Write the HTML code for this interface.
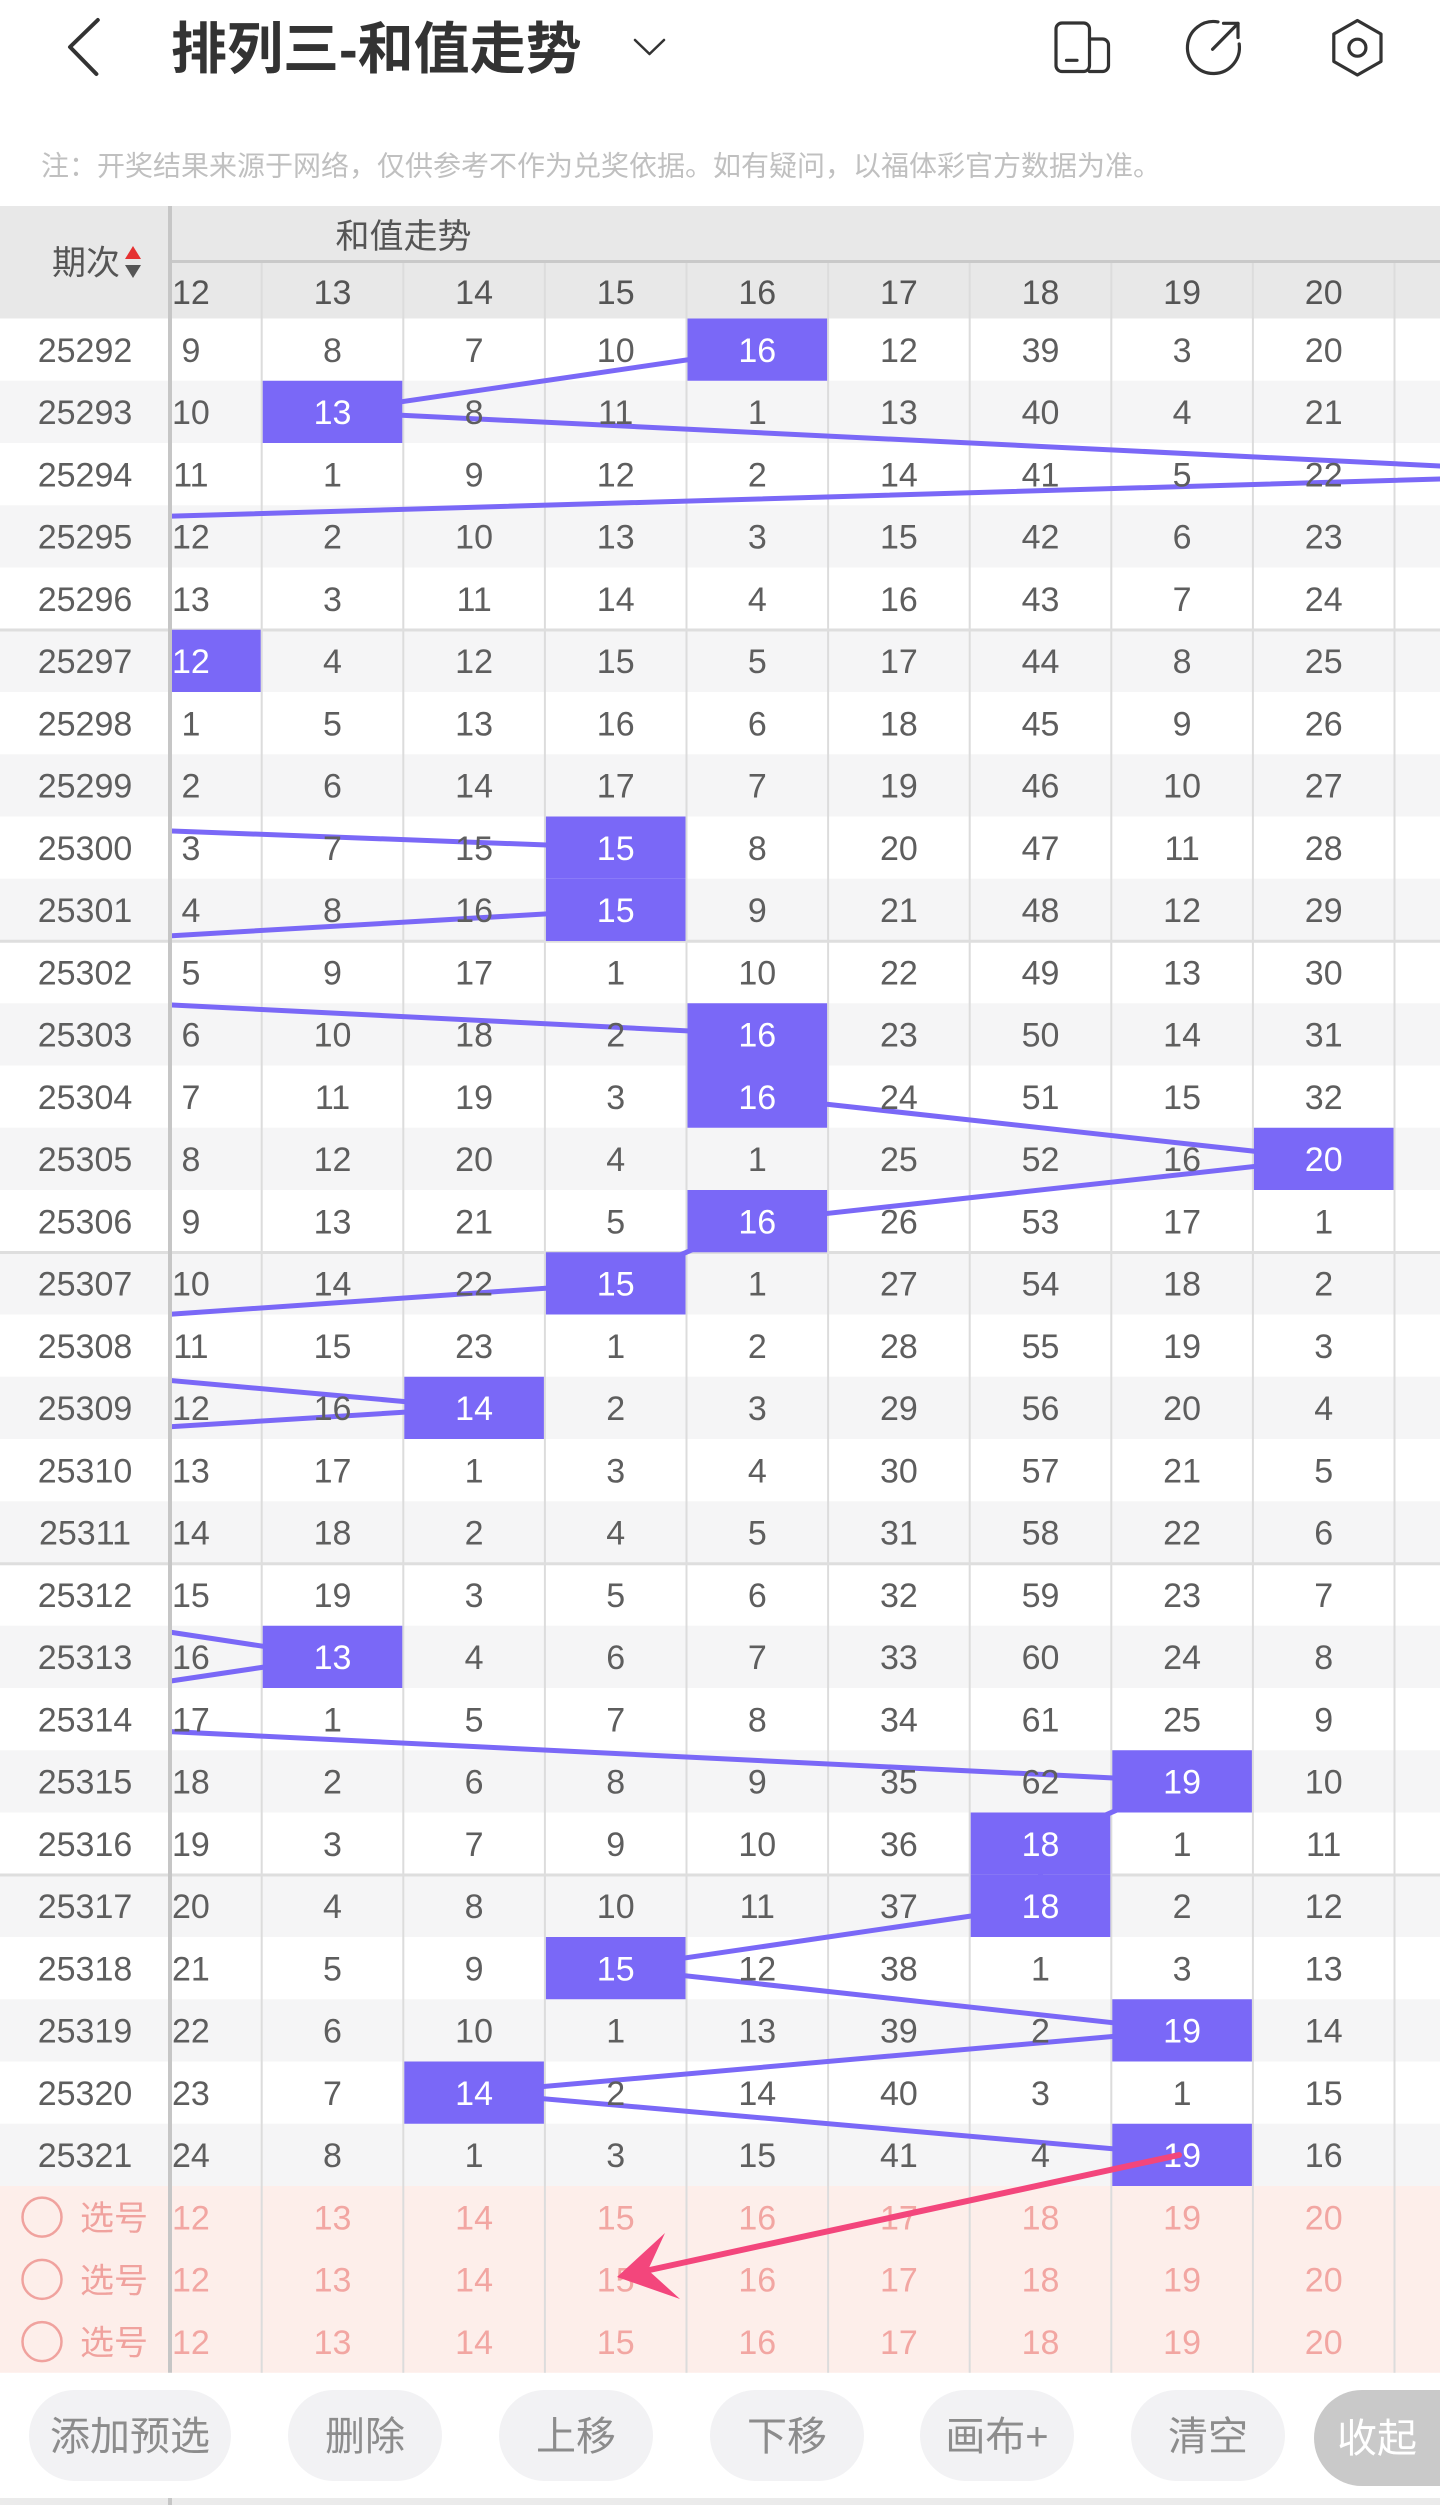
<!DOCTYPE html>
<html><head><meta charset="utf-8"><style>
html,body{margin:0;padding:0;background:#fff;}
body{width:1440px;height:2505px;overflow:hidden;}
svg{display:block;}
</style></head><body>
<svg width="1440" height="2505" viewBox="0 0 1440 2505" xmlns="http://www.w3.org/2000/svg">
<defs><clipPath id="g"><rect x="172" y="318.5" width="1268" height="1867.5"/></clipPath></defs>
<rect width="1440" height="2505" fill="#fff"/>

<!-- title bar -->
<polyline points="97.8,20 70,47 96.4,74" fill="none" stroke="#333" stroke-width="4" stroke-linecap="round" stroke-linejoin="round"/>
<text x="171" y="68.5" font-family="'Liberation Sans','Noto Sans CJK SC',sans-serif" font-size="56" font-weight="bold" fill="#333">排列三-和值走势</text>
<polyline points="635,40 649.5,54 664,40" fill="none" stroke="#333" stroke-width="2.5" stroke-linecap="round" stroke-linejoin="round"/>
<g fill="none" stroke="#333" stroke-width="3.2" stroke-linecap="round" stroke-linejoin="round">
<rect x="1056" y="23" width="33.5" height="48.5" rx="6"/>
<path d="M1089.5,39 H1102.5 a6,6 0 0 1 6,6 V65.5 a6,6 0 0 1 -6,6 H1089.5"/>
<line x1="1066.5" y1="60.3" x2="1077" y2="60.3"/>
<path d="M1218,21.9 A26,26 0 1 0 1239.2,44"/>
<line x1="1212.6" y1="49.3" x2="1238" y2="23.5"/>
<polyline points="1223.5,23.3 1238,23.3 1238,37.5"/>
<path d="M1357.4,20.5 L1381,34 L1381,61.5 L1357.4,75 L1333.8,61.5 L1333.8,34 Z"/>
<circle cx="1357.4" cy="47.7" r="8.5"/>
</g>

<!-- notice -->
<text x="41" y="175.5" font-family="'Liberation Sans','Noto Sans CJK SC',sans-serif" font-size="28" fill="#c0c0c0">注：开奖结果来源于网络，仅供参考不作为兑奖依据。如有疑问，以福体彩官方数据为准。</text>

<!-- header -->
<rect x="0" y="206" width="1440" height="112.5" fill="#e8e8e8"/>
<rect x="172" y="260" width="1268" height="3" fill="#c9c9c9"/>

<!-- row backgrounds -->
<g fill="#f5f5f6">
<rect x="0" y="380.75" width="1440" height="62.25"/>
<rect x="0" y="505.25" width="1440" height="62.25"/>
<rect x="0" y="629.75" width="1440" height="62.25"/>
<rect x="0" y="754.25" width="1440" height="62.25"/>
<rect x="0" y="878.75" width="1440" height="62.25"/>
<rect x="0" y="1003.25" width="1440" height="62.25"/>
<rect x="0" y="1127.75" width="1440" height="62.25"/>
<rect x="0" y="1252.25" width="1440" height="62.25"/>
<rect x="0" y="1376.75" width="1440" height="62.25"/>
<rect x="0" y="1501.25" width="1440" height="62.25"/>
<rect x="0" y="1625.75" width="1440" height="62.25"/>
<rect x="0" y="1750.25" width="1440" height="62.25"/>
<rect x="0" y="1874.75" width="1440" height="62.25"/>
<rect x="0" y="1999.25" width="1440" height="62.25"/>
<rect x="0" y="2123.75" width="1440" height="62.25"/>
</g>
<rect x="0" y="2186" width="1440" height="186.75" fill="#fdeeea"/>

<!-- vertical grid lines -->
<g fill="#dcdcdc">
<rect x="260.7" y="263" width="2" height="2109.75"/>
<rect x="402.3" y="263" width="2" height="2109.75"/>
<rect x="543.9" y="263" width="2" height="2109.75"/>
<rect x="685.5" y="263" width="2" height="2109.75"/>
<rect x="827.1" y="263" width="2" height="2109.75"/>
<rect x="968.7" y="263" width="2" height="2109.75"/>
<rect x="1110.3" y="263" width="2" height="2109.75"/>
<rect x="1251.9" y="263" width="2" height="2109.75"/>
<rect x="1393.5" y="263" width="2" height="2109.75"/>
</g>
<g fill="#dedede">
<rect x="0" y="628.5" width="1440" height="3"/>
<rect x="0" y="939.75" width="1440" height="3"/>
<rect x="0" y="1251" width="1440" height="3"/>
<rect x="0" y="1562.25" width="1440" height="3"/>
<rect x="0" y="1873.5" width="1440" height="3"/>
</g>

<!-- trend lines -->
<g clip-path="url(#g)" stroke="#7a68f7" stroke-width="5" fill="none" stroke-linecap="round">
<line x1="757.3" y1="349.6" x2="332.5" y2="411.85"/>
<line x1="332.5" y1="411.85" x2="1606.9" y2="474.1"/>
<line x1="1606.9" y1="474.1" x2="-517.1" y2="536.35"/>
<line x1="160" y1="830.5" x2="615.7" y2="847.6"/>
<line x1="615.7" y1="909.85" x2="160" y2="936.4"/>
<line x1="160" y1="1004.4" x2="757.3" y2="1034.35"/>
<line x1="757.3" y1="1034.35" x2="757.3" y2="1096.6"/>
<line x1="757.3" y1="1096.6" x2="1323.7" y2="1158.85"/>
<line x1="1323.7" y1="1158.85" x2="757.3" y2="1221.1"/>
<line x1="757.3" y1="1221.1" x2="615.7" y2="1283.35"/>
<line x1="615.7" y1="1283.35" x2="160" y2="1315"/>
<line x1="160" y1="1379.5" x2="474.1" y2="1407.85"/>
<line x1="474.1" y1="1407.85" x2="160" y2="1427.4"/>
<line x1="160" y1="1630.6" x2="332.5" y2="1656.85"/>
<line x1="332.5" y1="1656.85" x2="160" y2="1682.6"/>
<line x1="160" y1="1731.1" x2="1182.1" y2="1781.35"/>
<line x1="1182.1" y1="1781.35" x2="1040.5" y2="1843.6"/>
<line x1="1040.5" y1="1843.6" x2="1040.5" y2="1905.85"/>
<line x1="1040.5" y1="1905.85" x2="615.7" y2="1968.1"/>
<line x1="615.7" y1="1968.1" x2="1182.1" y2="2030.35"/>
<line x1="1182.1" y1="2030.35" x2="474.1" y2="2092.6"/>
<line x1="474.1" y1="2092.6" x2="1182.1" y2="2154.85"/>
</g>

<!-- highlight boxes -->
<g fill="#7a68f7">
<rect x="687.5" y="318.5" width="139.6" height="62.25"/>
<rect x="262.7" y="380.75" width="139.6" height="62.25"/>
<rect x="172" y="629.75" width="88.7" height="62.25"/>
<rect x="545.9" y="816.5" width="139.6" height="62.25"/>
<rect x="545.9" y="878.75" width="139.6" height="62.25"/>
<rect x="687.5" y="1003.25" width="139.6" height="62.25"/>
<rect x="687.5" y="1065.5" width="139.6" height="62.25"/>
<rect x="1253.9" y="1127.75" width="139.6" height="62.25"/>
<rect x="687.5" y="1190" width="139.6" height="62.25"/>
<rect x="545.9" y="1252.25" width="139.6" height="62.25"/>
<rect x="404.3" y="1376.75" width="139.6" height="62.25"/>
<rect x="262.7" y="1625.75" width="139.6" height="62.25"/>
<rect x="1112.3" y="1750.25" width="139.6" height="62.25"/>
<rect x="970.7" y="1812.5" width="139.6" height="62.25"/>
<rect x="970.7" y="1874.75" width="139.6" height="62.25"/>
<rect x="545.9" y="1937" width="139.6" height="62.25"/>
<rect x="1112.3" y="1999.25" width="139.6" height="62.25"/>
<rect x="404.3" y="2061.5" width="139.6" height="62.25"/>
<rect x="1112.3" y="2123.75" width="139.6" height="62.25"/>
</g>

<rect x="168" y="206" width="4" height="2166.75" fill="#c6c6c6"/>

<!-- header texts -->
<g font-family="'Liberation Sans','Noto Sans CJK SC',sans-serif" font-size="34" fill="#555">
<text x="403.5" y="248" text-anchor="middle">和值走势</text>
<text x="52" y="274.5">期次</text>
<text y="303.8" text-anchor="middle"><tspan x="190.9">12</tspan><tspan x="332.5">13</tspan><tspan x="474.1">14</tspan><tspan x="615.7">15</tspan><tspan x="757.3">16</tspan><tspan x="898.9">17</tspan><tspan x="1040.5">18</tspan><tspan x="1182.1">19</tspan><tspan x="1323.7">20</tspan></text>
</g>
<polygon points="133,246 141,259 125,259" fill="#e53232"/>
<polygon points="125,265 141,265 133,278" fill="#555"/>

<!-- data texts -->
<g font-family="'Liberation Sans',sans-serif" font-size="34" fill="#5e5e5e" text-anchor="middle">
<text y="361.8"><tspan x="85">25292</tspan><tspan x="190.9">9</tspan><tspan x="332.5">8</tspan><tspan x="474.1">7</tspan><tspan x="615.7">10</tspan><tspan x="757.3" fill="#fff">16</tspan><tspan x="898.9">12</tspan><tspan x="1040.5">39</tspan><tspan x="1182.1">3</tspan><tspan x="1323.7">20</tspan></text>
<text y="424.05"><tspan x="85">25293</tspan><tspan x="190.9">10</tspan><tspan x="332.5" fill="#fff">13</tspan><tspan x="474.1">8</tspan><tspan x="615.7">11</tspan><tspan x="757.3">1</tspan><tspan x="898.9">13</tspan><tspan x="1040.5">40</tspan><tspan x="1182.1">4</tspan><tspan x="1323.7">21</tspan></text>
<text y="486.3"><tspan x="85">25294</tspan><tspan x="190.9">11</tspan><tspan x="332.5">1</tspan><tspan x="474.1">9</tspan><tspan x="615.7">12</tspan><tspan x="757.3">2</tspan><tspan x="898.9">14</tspan><tspan x="1040.5">41</tspan><tspan x="1182.1">5</tspan><tspan x="1323.7">22</tspan></text>
<text y="548.55"><tspan x="85">25295</tspan><tspan x="190.9">12</tspan><tspan x="332.5">2</tspan><tspan x="474.1">10</tspan><tspan x="615.7">13</tspan><tspan x="757.3">3</tspan><tspan x="898.9">15</tspan><tspan x="1040.5">42</tspan><tspan x="1182.1">6</tspan><tspan x="1323.7">23</tspan></text>
<text y="610.8"><tspan x="85">25296</tspan><tspan x="190.9">13</tspan><tspan x="332.5">3</tspan><tspan x="474.1">11</tspan><tspan x="615.7">14</tspan><tspan x="757.3">4</tspan><tspan x="898.9">16</tspan><tspan x="1040.5">43</tspan><tspan x="1182.1">7</tspan><tspan x="1323.7">24</tspan></text>
<text y="673.05"><tspan x="85">25297</tspan><tspan x="190.9" fill="#fff">12</tspan><tspan x="332.5">4</tspan><tspan x="474.1">12</tspan><tspan x="615.7">15</tspan><tspan x="757.3">5</tspan><tspan x="898.9">17</tspan><tspan x="1040.5">44</tspan><tspan x="1182.1">8</tspan><tspan x="1323.7">25</tspan></text>
<text y="735.3"><tspan x="85">25298</tspan><tspan x="190.9">1</tspan><tspan x="332.5">5</tspan><tspan x="474.1">13</tspan><tspan x="615.7">16</tspan><tspan x="757.3">6</tspan><tspan x="898.9">18</tspan><tspan x="1040.5">45</tspan><tspan x="1182.1">9</tspan><tspan x="1323.7">26</tspan></text>
<text y="797.55"><tspan x="85">25299</tspan><tspan x="190.9">2</tspan><tspan x="332.5">6</tspan><tspan x="474.1">14</tspan><tspan x="615.7">17</tspan><tspan x="757.3">7</tspan><tspan x="898.9">19</tspan><tspan x="1040.5">46</tspan><tspan x="1182.1">10</tspan><tspan x="1323.7">27</tspan></text>
<text y="859.8"><tspan x="85">25300</tspan><tspan x="190.9">3</tspan><tspan x="332.5">7</tspan><tspan x="474.1">15</tspan><tspan x="615.7" fill="#fff">15</tspan><tspan x="757.3">8</tspan><tspan x="898.9">20</tspan><tspan x="1040.5">47</tspan><tspan x="1182.1">11</tspan><tspan x="1323.7">28</tspan></text>
<text y="922.05"><tspan x="85">25301</tspan><tspan x="190.9">4</tspan><tspan x="332.5">8</tspan><tspan x="474.1">16</tspan><tspan x="615.7" fill="#fff">15</tspan><tspan x="757.3">9</tspan><tspan x="898.9">21</tspan><tspan x="1040.5">48</tspan><tspan x="1182.1">12</tspan><tspan x="1323.7">29</tspan></text>
<text y="984.3"><tspan x="85">25302</tspan><tspan x="190.9">5</tspan><tspan x="332.5">9</tspan><tspan x="474.1">17</tspan><tspan x="615.7">1</tspan><tspan x="757.3">10</tspan><tspan x="898.9">22</tspan><tspan x="1040.5">49</tspan><tspan x="1182.1">13</tspan><tspan x="1323.7">30</tspan></text>
<text y="1046.55"><tspan x="85">25303</tspan><tspan x="190.9">6</tspan><tspan x="332.5">10</tspan><tspan x="474.1">18</tspan><tspan x="615.7">2</tspan><tspan x="757.3" fill="#fff">16</tspan><tspan x="898.9">23</tspan><tspan x="1040.5">50</tspan><tspan x="1182.1">14</tspan><tspan x="1323.7">31</tspan></text>
<text y="1108.8"><tspan x="85">25304</tspan><tspan x="190.9">7</tspan><tspan x="332.5">11</tspan><tspan x="474.1">19</tspan><tspan x="615.7">3</tspan><tspan x="757.3" fill="#fff">16</tspan><tspan x="898.9">24</tspan><tspan x="1040.5">51</tspan><tspan x="1182.1">15</tspan><tspan x="1323.7">32</tspan></text>
<text y="1171.05"><tspan x="85">25305</tspan><tspan x="190.9">8</tspan><tspan x="332.5">12</tspan><tspan x="474.1">20</tspan><tspan x="615.7">4</tspan><tspan x="757.3">1</tspan><tspan x="898.9">25</tspan><tspan x="1040.5">52</tspan><tspan x="1182.1">16</tspan><tspan x="1323.7" fill="#fff">20</tspan></text>
<text y="1233.3"><tspan x="85">25306</tspan><tspan x="190.9">9</tspan><tspan x="332.5">13</tspan><tspan x="474.1">21</tspan><tspan x="615.7">5</tspan><tspan x="757.3" fill="#fff">16</tspan><tspan x="898.9">26</tspan><tspan x="1040.5">53</tspan><tspan x="1182.1">17</tspan><tspan x="1323.7">1</tspan></text>
<text y="1295.55"><tspan x="85">25307</tspan><tspan x="190.9">10</tspan><tspan x="332.5">14</tspan><tspan x="474.1">22</tspan><tspan x="615.7" fill="#fff">15</tspan><tspan x="757.3">1</tspan><tspan x="898.9">27</tspan><tspan x="1040.5">54</tspan><tspan x="1182.1">18</tspan><tspan x="1323.7">2</tspan></text>
<text y="1357.8"><tspan x="85">25308</tspan><tspan x="190.9">11</tspan><tspan x="332.5">15</tspan><tspan x="474.1">23</tspan><tspan x="615.7">1</tspan><tspan x="757.3">2</tspan><tspan x="898.9">28</tspan><tspan x="1040.5">55</tspan><tspan x="1182.1">19</tspan><tspan x="1323.7">3</tspan></text>
<text y="1420.05"><tspan x="85">25309</tspan><tspan x="190.9">12</tspan><tspan x="332.5">16</tspan><tspan x="474.1" fill="#fff">14</tspan><tspan x="615.7">2</tspan><tspan x="757.3">3</tspan><tspan x="898.9">29</tspan><tspan x="1040.5">56</tspan><tspan x="1182.1">20</tspan><tspan x="1323.7">4</tspan></text>
<text y="1482.3"><tspan x="85">25310</tspan><tspan x="190.9">13</tspan><tspan x="332.5">17</tspan><tspan x="474.1">1</tspan><tspan x="615.7">3</tspan><tspan x="757.3">4</tspan><tspan x="898.9">30</tspan><tspan x="1040.5">57</tspan><tspan x="1182.1">21</tspan><tspan x="1323.7">5</tspan></text>
<text y="1544.55"><tspan x="85">25311</tspan><tspan x="190.9">14</tspan><tspan x="332.5">18</tspan><tspan x="474.1">2</tspan><tspan x="615.7">4</tspan><tspan x="757.3">5</tspan><tspan x="898.9">31</tspan><tspan x="1040.5">58</tspan><tspan x="1182.1">22</tspan><tspan x="1323.7">6</tspan></text>
<text y="1606.8"><tspan x="85">25312</tspan><tspan x="190.9">15</tspan><tspan x="332.5">19</tspan><tspan x="474.1">3</tspan><tspan x="615.7">5</tspan><tspan x="757.3">6</tspan><tspan x="898.9">32</tspan><tspan x="1040.5">59</tspan><tspan x="1182.1">23</tspan><tspan x="1323.7">7</tspan></text>
<text y="1669.05"><tspan x="85">25313</tspan><tspan x="190.9">16</tspan><tspan x="332.5" fill="#fff">13</tspan><tspan x="474.1">4</tspan><tspan x="615.7">6</tspan><tspan x="757.3">7</tspan><tspan x="898.9">33</tspan><tspan x="1040.5">60</tspan><tspan x="1182.1">24</tspan><tspan x="1323.7">8</tspan></text>
<text y="1731.3"><tspan x="85">25314</tspan><tspan x="190.9">17</tspan><tspan x="332.5">1</tspan><tspan x="474.1">5</tspan><tspan x="615.7">7</tspan><tspan x="757.3">8</tspan><tspan x="898.9">34</tspan><tspan x="1040.5">61</tspan><tspan x="1182.1">25</tspan><tspan x="1323.7">9</tspan></text>
<text y="1793.55"><tspan x="85">25315</tspan><tspan x="190.9">18</tspan><tspan x="332.5">2</tspan><tspan x="474.1">6</tspan><tspan x="615.7">8</tspan><tspan x="757.3">9</tspan><tspan x="898.9">35</tspan><tspan x="1040.5">62</tspan><tspan x="1182.1" fill="#fff">19</tspan><tspan x="1323.7">10</tspan></text>
<text y="1855.8"><tspan x="85">25316</tspan><tspan x="190.9">19</tspan><tspan x="332.5">3</tspan><tspan x="474.1">7</tspan><tspan x="615.7">9</tspan><tspan x="757.3">10</tspan><tspan x="898.9">36</tspan><tspan x="1040.5" fill="#fff">18</tspan><tspan x="1182.1">1</tspan><tspan x="1323.7">11</tspan></text>
<text y="1918.05"><tspan x="85">25317</tspan><tspan x="190.9">20</tspan><tspan x="332.5">4</tspan><tspan x="474.1">8</tspan><tspan x="615.7">10</tspan><tspan x="757.3">11</tspan><tspan x="898.9">37</tspan><tspan x="1040.5" fill="#fff">18</tspan><tspan x="1182.1">2</tspan><tspan x="1323.7">12</tspan></text>
<text y="1980.3"><tspan x="85">25318</tspan><tspan x="190.9">21</tspan><tspan x="332.5">5</tspan><tspan x="474.1">9</tspan><tspan x="615.7" fill="#fff">15</tspan><tspan x="757.3">12</tspan><tspan x="898.9">38</tspan><tspan x="1040.5">1</tspan><tspan x="1182.1">3</tspan><tspan x="1323.7">13</tspan></text>
<text y="2042.55"><tspan x="85">25319</tspan><tspan x="190.9">22</tspan><tspan x="332.5">6</tspan><tspan x="474.1">10</tspan><tspan x="615.7">1</tspan><tspan x="757.3">13</tspan><tspan x="898.9">39</tspan><tspan x="1040.5">2</tspan><tspan x="1182.1" fill="#fff">19</tspan><tspan x="1323.7">14</tspan></text>
<text y="2104.8"><tspan x="85">25320</tspan><tspan x="190.9">23</tspan><tspan x="332.5">7</tspan><tspan x="474.1" fill="#fff">14</tspan><tspan x="615.7">2</tspan><tspan x="757.3">14</tspan><tspan x="898.9">40</tspan><tspan x="1040.5">3</tspan><tspan x="1182.1">1</tspan><tspan x="1323.7">15</tspan></text>
<text y="2167.05"><tspan x="85">25321</tspan><tspan x="190.9">24</tspan><tspan x="332.5">8</tspan><tspan x="474.1">1</tspan><tspan x="615.7">3</tspan><tspan x="757.3">15</tspan><tspan x="898.9">41</tspan><tspan x="1040.5">4</tspan><tspan x="1182.1" fill="#fff">19</tspan><tspan x="1323.7">16</tspan></text>
</g>

<!-- selection rows -->
<g fill="none" stroke="#f0a29e" stroke-width="2.5">
<circle cx="42" cy="2217.1" r="19.5"/>
<circle cx="42" cy="2279.35" r="19.5"/>
<circle cx="42" cy="2341.6" r="19.5"/>
</g>
<g font-family="'Liberation Sans','Noto Sans CJK SC',sans-serif" font-size="34" fill="#f0a29e">
<text x="80" y="2230">选号</text>
<text x="80" y="2292.3">选号</text>
<text x="80" y="2354.5">选号</text>
</g>
<g font-family="'Liberation Sans',sans-serif" font-size="34" fill="#f2a6a2" text-anchor="middle">
<text y="2229.3"><tspan x="190.9">12</tspan><tspan x="332.5">13</tspan><tspan x="474.1">14</tspan><tspan x="615.7">15</tspan><tspan x="757.3">16</tspan><tspan x="898.9">17</tspan><tspan x="1040.5">18</tspan><tspan x="1182.1">19</tspan><tspan x="1323.7">20</tspan></text>
<text y="2291.55"><tspan x="190.9">12</tspan><tspan x="332.5">13</tspan><tspan x="474.1">14</tspan><tspan x="615.7">15</tspan><tspan x="757.3">16</tspan><tspan x="898.9">17</tspan><tspan x="1040.5">18</tspan><tspan x="1182.1">19</tspan><tspan x="1323.7">20</tspan></text>
<text y="2353.8"><tspan x="190.9">12</tspan><tspan x="332.5">13</tspan><tspan x="474.1">14</tspan><tspan x="615.7">15</tspan><tspan x="757.3">16</tspan><tspan x="898.9">17</tspan><tspan x="1040.5">18</tspan><tspan x="1182.1">19</tspan><tspan x="1323.7">20</tspan></text>
</g>

<!-- pink arrow -->
<line x1="1179" y1="2155" x2="645" y2="2271" stroke="#f3467c" stroke-width="6" stroke-linecap="round"/>
<polygon points="617,2277 665,2233 648,2270 680,2299" fill="#f3467c"/>

<!-- buttons -->
<g fill="#f2f2f4">
<rect x="29" y="2390" width="202" height="91" rx="45.5"/>
<rect x="288" y="2390" width="154" height="91" rx="45.5"/>
<rect x="499" y="2390" width="154" height="91" rx="45.5"/>
<rect x="710" y="2390" width="154" height="91" rx="45.5"/>
<rect x="920" y="2390" width="154" height="91" rx="45.5"/>
<rect x="1131" y="2390" width="154" height="91" rx="45.5"/>
</g>
<rect x="1314" y="2390" width="190" height="96" rx="48" fill="#c9c9c9"/>
<g font-family="'Liberation Sans','Noto Sans CJK SC',sans-serif" font-size="40" fill="#8c8c8c" text-anchor="middle">
<text x="130" y="2450">添加预选</text>
<text x="365" y="2450">删除</text>
<text x="576" y="2450">上移</text>
<text x="787" y="2450">下移</text>
<text x="997" y="2450">画布+</text>
<text x="1208" y="2450">清空</text>
<text x="1377" y="2452" fill="#fff">收起</text>
</g>

<rect x="0" y="2498" width="1440" height="7" fill="#ebebeb"/>
<rect x="168" y="2498" width="4" height="7" fill="#c6c6c6"/>
</svg>
</body></html>
